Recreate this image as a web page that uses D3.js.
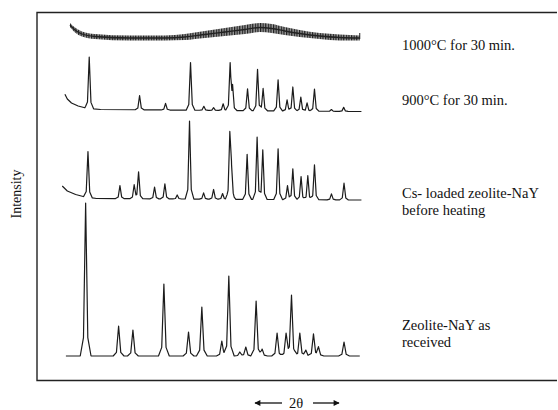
<!DOCTYPE html>
<html>
<head>
<meta charset="utf-8">
<script src="https://cdn.jsdelivr.net/npm/d3@7"></script>
<style>
    body { margin: 0; background: #fff; }
    text { font-family: "Liberation Serif", "Times New Roman", serif; fill: #111; }
</style>
</head>
<body>
<div class="container"></div>
<script>
// 2θ range shown on the x axis (degrees)
var twoThetaRange = [3, 40];

// Zeolite-NaY as received: peak positions (2θ) and heights (a.u. above baseline)
var nayPos = [6.20, 10.16, 11.88, 15.60, 18.56, 20.16, 22.56, 23.40, 24.72, 25.44,
    26.68, 27.40, 29.20, 30.28, 30.93, 31.93, 32.65, 33.57, 34.17, 37.24];
var nayHeight = [153, 30, 26, 72, 24, 49, 15, 80, 4, 9,
    55, 7, 23, 23, 61, 23, 6, 22, 9, 14];
var nayBase = [[3.83, 0], [39.13, 0]];

// Cs- loaded zeolite-NaY before heating
var csPos = [6.48, 10.32, 12.03, 12.56, 14.48, 15.72, 17.20, 18.68, 20.37, 21.57,
    22.65, 23.52, 23.72, 25.60, 26.80, 27.48, 29.32, 30.45, 31.09, 32.08,
    32.89, 33.69, 35.73, 37.24];
var csHeight = [45.7, 13, 14, 27, 11.7, 15, 4, 78, 6.3, 9.7,
    5.7, 63.3, 28, 45, 62.3, 49.7, 50.7, 14, 30.7, 23,
    24, 35, 6, 16.7];
var csBase = [[3.39, 13], [4.0, 8], [5.0, 4.5], [5.9, 2.5], [7.5, 0.5], [39.33, -1]];

// 900°C for 30 min.
var t900Pos = [6.63, 12.68, 15.80, 18.80, 20.40, 21.57, 22.72, 23.56, 23.85, 25.65,
    26.85, 27.52, 29.32, 30.40, 31.09, 32.05, 32.80, 33.69, 35.73, 37.20];
var t900Height = [51.3, 14.3, 6.7, 47.7, 4, 2.7, 6.7, 46, 22, 21.7,
    41.3, 22.3, 31, 11, 24, 14, 8.3, 22, 1.7, 4];
var t900Base = [[3.71, 15.7], [4.0, 11], [4.5, 7], [5.3, 4], [6.2, 2], [8.0, 0.5], [39.33, -1.5]];

// 1000°C for 30 min.: amorphous hump, centre line and half-thickness of the noisy band
var t1000Pos = [4.32, 4.92, 5.76, 7.32, 11.52, 15.72, 18.12, 20.52, 22.92, 25.33,
    27.12, 28.56, 30.12, 31.92, 34.32, 36.73, 39.13];
var t1000Center = [13, 8, 4, 1.5, 0, 0, 1, 3.5, 6, 8.5,
    10.5, 9.5, 7, 4.5, 2, 0.5, 0];
var t1000Spread = [2, 2.5, 2.5, 2.5, 2.5, 2.5, 3, 3.5, 4, 4.5,
    4.5, 4.5, 4, 3.5, 3, 3, 2.5];

// vertical stacking of the patterns (a.u.), bottom to top
var traceOffsets = [24, 181, 270, 342];

var labels = [
    ["1000°C for 30 min."],
    ["900°C for 30 min."],
    ["Cs- loaded zeolite-NaY", "before heating"],
    ["Zeolite-NaY as", "received"]
];

!function () {
    var width = 558, height = 410;
    var svg = d3.select('.container')
        .append('svg')
        .attr('width', width)
        .attr('height', height);

    var x = d3.scaleLinear().domain(twoThetaRange).range([59, 367]);
    var y = d3.scaleLinear().domain([0, 368]).range([380, 12]);

    var defs = svg.append('defs');

    // vertical hatching to imitate the noise of the amorphous trace
    var pat = defs.append('pattern')
        .attr('id', 'noise')
        .attr('patternUnits', 'userSpaceOnUse')
        .attr('width', 2.6).attr('height', 7);
    pat.append('rect').attr('width', 2.6).attr('height', 7).attr('fill', '#9a9a9a');
    pat.append('rect').attr('width', 1.2).attr('height', 7).attr('fill', '#1e1e1e');

    // frame: left, top, bottom
    svg.append('path')
        .attr('d', 'M557,12.5H37V380.5H557')
        .attr('fill', 'none')
        .attr('stroke', '#222')
        .attr('stroke-width', 1.4);

    // build polyline of a crystalline pattern from its peaks
    function tracePoints(pos, hgt, anchors, hw) {
        var lo = anchors[0][0], hi = anchors[anchors.length - 1][0];
        var xs = anchors.map(function (a) { return a[0]; });
        pos.forEach(function (p) {
            xs.push(p - 2.5 * hw, p - hw, p, p + hw, p + 2.5 * hw);
        });
        xs = xs.filter(function (v) { return v >= lo && v <= hi; }).sort(d3.ascending);
        var base = d3.scaleLinear()
            .domain(anchors.map(function (a) { return a[0]; }))
            .range(anchors.map(function (a) { return a[1]; }));
        return xs.map(function (v) {
            var s = base(v);
            pos.forEach(function (p, i) {
                var d = Math.abs(v - p);
                if (d < hw) s += hgt[i] * (1 - 0.88 * d / hw);
                else if (d < 2.5 * hw) s += hgt[i] * 0.12 * (2.5 * hw - d) / (1.5 * hw);
            });
            return [v, s];
        });
    }

    var traces = [
        {pos: nayPos, h: nayHeight, base: nayBase, hw: 0.26, off: traceOffsets[0]},
        {pos: csPos, h: csHeight, base: csBase, hw: 0.21, off: traceOffsets[1]},
        {pos: t900Pos, h: t900Height, base: t900Base, hw: 0.21, off: traceOffsets[2]}
    ];

    traces.forEach(function (t) {
        var line = d3.line()
            .x(function (d) { return x(d[0]); })
            .y(function (d) { return y(d[1] + t.off); });
        svg.append('path')
            .datum(tracePoints(t.pos, t.h, t.base, t.hw))
            .attr('d', line)
            .attr('fill', 'none')
            .attr('stroke', '#1c1c1c')
            .attr('stroke-width', 1.2)
            .attr('stroke-linejoin', 'round');
    });

    // 1000°C: noisy amorphous band
    var band = d3.area()
        .x(function (d, i) { return x(t1000Pos[i]); })
        .y0(function (d, i) { return y(traceOffsets[3] + t1000Center[i] - t1000Spread[i]); })
        .y1(function (d, i) { return y(traceOffsets[3] + t1000Center[i] + t1000Spread[i]); })
        .curve(d3.curveMonotoneX);
    svg.append('path')
        .datum(t1000Center)
        .attr('d', band)
        .attr('fill', 'url(#noise)');
    svg.append('path')
        .datum(t1000Center)
        .attr('d', d3.line()
            .x(function (d, i) { return x(t1000Pos[i]); })
            .y(function (d) { return y(traceOffsets[3] + d); })
            .curve(d3.curveMonotoneX))
        .attr('fill', 'none')
        .attr('stroke', '#222')
        .attr('stroke-width', 1.3);
    // end tick of the 1000°C trace
    svg.append('line')
        .attr('x1', x(t1000Pos[t1000Pos.length - 1])).attr('x2', x(t1000Pos[t1000Pos.length - 1]))
        .attr('y1', y(traceOffsets[3] - 1)).attr('y2', y(traceOffsets[3] + 5))
        .attr('stroke', '#222').attr('stroke-width', 1);

    // labels
    var labelY = [50, 105, 198, 330];
    labels.forEach(function (lines, i) {
        var t = svg.append('text')
            .attr('x', 402)
            .attr('y', labelY[i])
            .style('font-size', '14.5px');
        lines.forEach(function (s, j) {
            t.append('tspan').attr('x', 402).attr('dy', j === 0 ? 0 : 17.3).text(s);
        });
    });

    svg.append('text')
        .attr('transform', 'translate(21,194) rotate(-90)')
        .attr('text-anchor', 'middle')
        .style('font-size', '14px')
        .text('Intensity');

    // x label with arrows
    defs.append('marker')
        .attr('id', 'arr')
        .attr('viewBox', '0 0 10 10')
        .attr('refX', 9).attr('refY', 5)
        .attr('markerWidth', 7).attr('markerHeight', 6)
        .attr('markerUnits', 'userSpaceOnUse')
        .attr('orient', 'auto')
        .append('path')
        .attr('d', 'M0,0L10,5L0,10z')
        .attr('fill', '#111');

    svg.append('line')
        .attr('x1', 282).attr('y1', 403).attr('x2', 255).attr('y2', 403)
        .attr('stroke', '#111').attr('stroke-width', 1.3)
        .attr('marker-end', 'url(#arr)');
    svg.append('line')
        .attr('x1', 313).attr('y1', 403).attr('x2', 339).attr('y2', 403)
        .attr('stroke', '#111').attr('stroke-width', 1.3)
        .attr('marker-end', 'url(#arr)');
    svg.append('text')
        .attr('x', 296)
        .attr('y', 408)
        .attr('text-anchor', 'middle')
        .style('font-size', '14.5px')
        .text('2θ');
}();
</script>
</body>
</html>
